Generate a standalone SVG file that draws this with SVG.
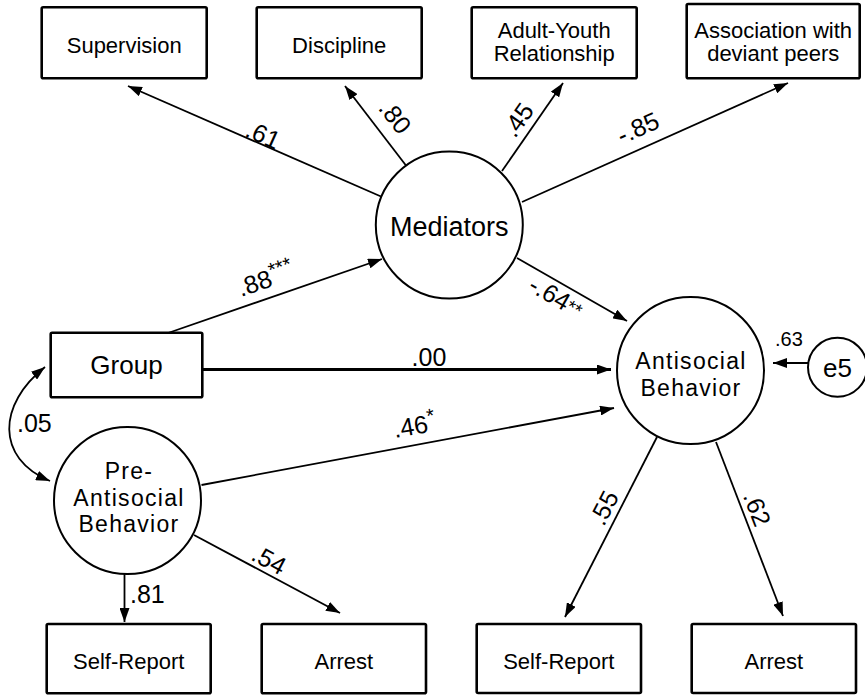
<svg xmlns="http://www.w3.org/2000/svg" width="865" height="695" viewBox="0 0 865 695">
<defs>
<marker id="ah" markerUnits="userSpaceOnUse" viewBox="0 0 14 10" refX="14" refY="5" markerWidth="14" markerHeight="10" orient="auto-start-reverse">
<path d="M0,0 L14,5 L0,10 z" fill="#000"/>
</marker>
<style>
text{font-family:"Liberation Sans",Arial,Helvetica,sans-serif;fill:#000}
.box{fill:#fff;stroke:#000;stroke-width:2.6}
.lat{fill:#fff;stroke:#000;stroke-width:2}
.bt{font-size:22px;text-anchor:middle}
.ct{font-size:26px;text-anchor:middle}
.ml{font-size:23px;letter-spacing:1.3px;text-anchor:middle}
.lb{font-size:25px}
.lm{font-size:25px;text-anchor:middle}
.cn{fill:none;stroke:#000;stroke-width:1.8;marker-end:url(#ah)}
</style>
</defs>
<g id="connectors">
<line class="cn" x1="381" y1="196.5" x2="128" y2="86"/>
<line class="cn" x1="406" y1="165.5" x2="345" y2="86"/>
<line class="cn" x1="502" y1="171" x2="563" y2="83"/>
<line class="cn" x1="522" y1="202" x2="788" y2="83"/>
<line class="cn" x1="517" y1="258" x2="627" y2="321"/>
<line class="cn" x1="168" y1="333" x2="382" y2="259"/>
<line class="cn" x1="202" y1="369.5" x2="611" y2="369.5" style="stroke-width:3"/>
<line class="cn" x1="201.5" y1="485" x2="614" y2="408"/>
<line class="cn" x1="194" y1="535" x2="340" y2="613"/>
<line class="cn" x1="124.5" y1="574" x2="124.5" y2="622"/>
<line class="cn" x1="657" y1="437" x2="565" y2="617"/>
<line class="cn" x1="716" y1="442" x2="783" y2="616"/>
<line class="cn" x1="808" y1="363" x2="773" y2="363"/>
<path class="cn" d="M45,367 C-2,404 -5,458 50,481" style="marker-start:url(#ah)"/>
</g>
<g id="supervision"><rect class="box" x="41.7" y="7.3" width="165" height="71" rx="1.5"/><text class="bt" x="124.2" y="52.7">Supervision</text></g>
<g id="discipline"><rect class="box" x="256.7" y="7.3" width="165" height="71" rx="1.5"/><text class="bt" x="339.2" y="52.7">Discipline</text></g>
<g id="adult-youth"><rect class="box" x="471.7" y="7.3" width="165" height="71" rx="1.5"/><text class="bt" x="554.2" y="37.5">Adult-Youth</text><text class="bt" x="554.2" y="60.5">Relationship</text></g>
<g id="association"><rect class="box" x="686.7" y="4" width="173" height="74.3" rx="1.5"/><text class="bt" x="773.2" y="37.5">Association with</text><text class="bt" x="773.2" y="60.5">deviant peers</text></g>
<g id="mediators"><circle class="lat" cx="449.3" cy="225" r="73.5"/><text class="ct" x="449.3" y="235.7" style="font-size:27px">Mediators</text></g>
<g id="group"><rect class="box" x="50.7" y="332.7" width="151.6" height="64.6" rx="1.5"/><text class="ct" x="126.5" y="374">Group</text></g>
<g id="antisocial"><circle class="lat" cx="690.5" cy="370.5" r="73.5"/><text class="ml" x="691" y="369">Antisocial</text><text class="ml" x="691" y="396">Behavior</text></g>
<g id="e5"><circle class="lat" cx="837.5" cy="367.3" r="29.5"/><text class="ct" x="837.5" y="376.7">e5</text></g>
<g id="pre-antisocial"><circle class="lat" cx="127.5" cy="500.5" r="73.5"/><text class="ml" x="129" y="479">Pre-</text><text class="ml" x="129" y="505.5">Antisocial</text><text class="ml" x="129" y="532">Behavior</text></g>
<g id="self-report-1"><rect class="box" x="46.7" y="624" width="164" height="69.3" rx="1.5"/><text class="bt" x="128.7" y="669">Self-Report</text></g>
<g id="arrest-1"><rect class="box" x="261.7" y="624" width="164.3" height="69.3" rx="1.5"/><text class="bt" x="343.8" y="669">Arrest</text></g>
<g id="self-report-2"><rect class="box" x="476.7" y="624" width="164.3" height="69" rx="1.5"/><text class="bt" x="558.8" y="669">Self-Report</text></g>
<g id="arrest-2"><rect class="box" x="691.7" y="624" width="164.3" height="69" rx="1.5"/><text class="bt" x="773.8" y="669">Arrest</text></g>
<g id="labels">
<text class="lm" transform="translate(263,135) rotate(24)" y="8.5">.61</text>
<text class="lm" transform="translate(395,117) rotate(52)" y="8.5">.80</text>
<text class="lm" transform="translate(518,120) rotate(-55)" y="8.5">.45</text>
<text class="lm" transform="translate(638,128) rotate(-24)" y="8.5">-.85</text>
<text class="lb" transform="translate(241,297) rotate(-19)">.88<tspan style="font-size:20px" dy="-9">***</tspan></text>
<text class="lm" transform="translate(556,297) rotate(30)" y="8.5">-.64<tspan style="font-size:19px" dy="-1">**</tspan></text>
<text class="lm" x="429" y="366">.00</text>
<text class="lb" transform="translate(395,438) rotate(-10)">.46<tspan style="font-size:20px" dy="-9">*</tspan></text>
<text class="lb" x="17" y="431.7">.05</text>
<text class="lm" transform="translate(269,560) rotate(28)" y="8.5">.54</text>
<text class="lb" x="130" y="602.7">.81</text>
<text class="lm" transform="translate(604,508) rotate(-63)" y="8.5">.55</text>
<text class="lm" transform="translate(757,509) rotate(69)" y="8.5">.62</text>
<text class="lb" x="775" y="346" style="font-size:20px">.63</text>
</g>
</svg>
